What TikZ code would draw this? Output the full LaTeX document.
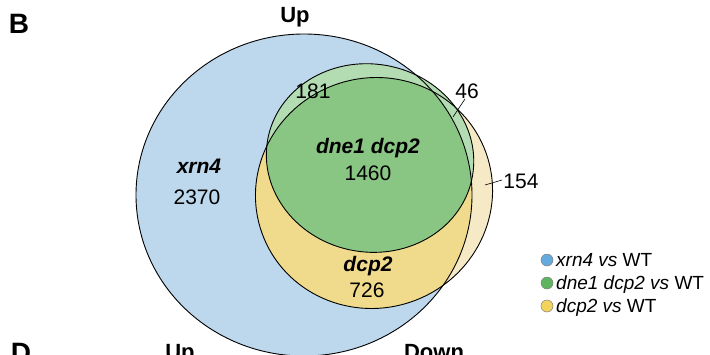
\documentclass[tikz,border=0pt]{standalone}
\usepackage{fontspec}
\setmainfont{Liberation Sans}
\usetikzlibrary{positioning}
\definecolor{xrnblue}{RGB}{189,215,236}
\definecolor{dnegreen}{RGB}{180,220,178}
\definecolor{allgreen}{RGB}{138,198,131}
\definecolor{dcpyellow}{RGB}{240,218,140}
\definecolor{dcppale}{RGB}{246,234,198}
\definecolor{keyblue}{RGB}{100,170,220}
\definecolor{keygreen}{RGB}{95,180,95}
\definecolor{keyyellow}{RGB}{242,212,92}

\begin{document}
\begin{tikzpicture}[x=1pt,y=-1pt,
  head/.style={font=\fontsize{28}{28}\selectfont\bfseries, inner sep=0pt, anchor=base},
  dirlbl/.style={font=\fontsize{22}{22}\selectfont\bfseries, inner sep=0pt, anchor=base},
  cnt/.style={font=\fontsize{21}{21}\selectfont, inner sep=0pt, anchor=base},
  setlbl/.style={font=\fontsize{21}{21}\selectfont\bfseries\itshape, inner sep=0pt, anchor=base},
  keytxt/.style={font=\fontsize{19}{19}\selectfont, inner sep=0pt, anchor=base west},
  keydot/.style={circle, draw=gray, line width=0.5pt, minimum size=12pt, inner sep=0pt},
  outline/.style={line width=0.9pt},
  gshape/.style={rotate around={-10:(cg)}},
  yshape/.style={rotate around={20:(cy)}}]

\useasboundingbox (0,0) rectangle (710,354);
\clip (0,0) rectangle (710,354);

\coordinate (cb) at (304,195);
\coordinate (cg) at (370,158);
\coordinate (cy) at (374,193);

% regions
\fill[xrnblue] (cb) ellipse [x radius=168pt, y radius=161pt];
\fill[dcppale, yshape] (cy) ellipse [x radius=119pt, y radius=115pt];
\fill[dnegreen, gshape] (cg) ellipse [x radius=104pt, y radius=94pt];
\begin{scope}
\clip (cb) ellipse [x radius=168pt, y radius=161pt];
\fill[dcpyellow, yshape] (cy) ellipse [x radius=119pt, y radius=115pt];
\clip[gshape] (cg) ellipse [x radius=104pt, y radius=94pt];
\fill[allgreen, yshape] (cy) ellipse [x radius=119pt, y radius=115pt];
\end{scope}

% outlines
\draw[outline] (cb) ellipse [x radius=168pt, y radius=161pt];
\draw[outline, gshape] (cg) ellipse [x radius=104pt, y radius=94pt];
\draw[outline, yshape] (cy) ellipse [x radius=119pt, y radius=115pt];

% labels
\node[head] (pB) at (19,33) {B};
\node[dirlbl] (up) at (295,22) {Up};
\node[setlbl] (sx) at (199,173) {xrn4};
\node[cnt] (n2370) at (197,204) {2370};
\node[cnt] (n181) at (313,98) {181};
\node[setlbl] (sdd) at (368,153) {dne1 dcp2};
\node[cnt] (n1460) at (368,180) {1460};
\node[setlbl] (sd) at (368,271) {dcp2};
\node[cnt] (n726) at (367,297) {726};
\node[cnt] (n46) at (467,98) {46};
\node[cnt] (n154) at (521,188) {154};

\coordinate (a46) at (465,99);
\coordinate (b46) at (453,117);
\coordinate (a154) at (502,180);
\coordinate (b154) at (485,185);
\draw[line width=0.6pt] (a46) -- (b46);
\draw[line width=0.6pt] (a154) -- (b154);

% key
\node[keydot, fill=keyblue] (kb) at (547,260) {};
\node[keydot, fill=keygreen] (kg) at (547,283) {};
\node[keydot, fill=keyyellow] (ky) at (547,306) {};
\node[keytxt] (tb) at (556,266) {\itshape xrn4 vs \upshape WT};
\node[keytxt] (tg) at (556,289) {\itshape dne1 dcp2 vs \upshape WT};
\node[keytxt] (ty) at (556,312) {\itshape dcp2 vs \upshape WT};

% next panel, cut off
\node[head] (pD) at (21,362) {D};
\node[dirlbl] (up2) at (180,359) {Up};
\node[dirlbl] (down2) at (434,359) {Down};
\end{tikzpicture}
\end{document}
